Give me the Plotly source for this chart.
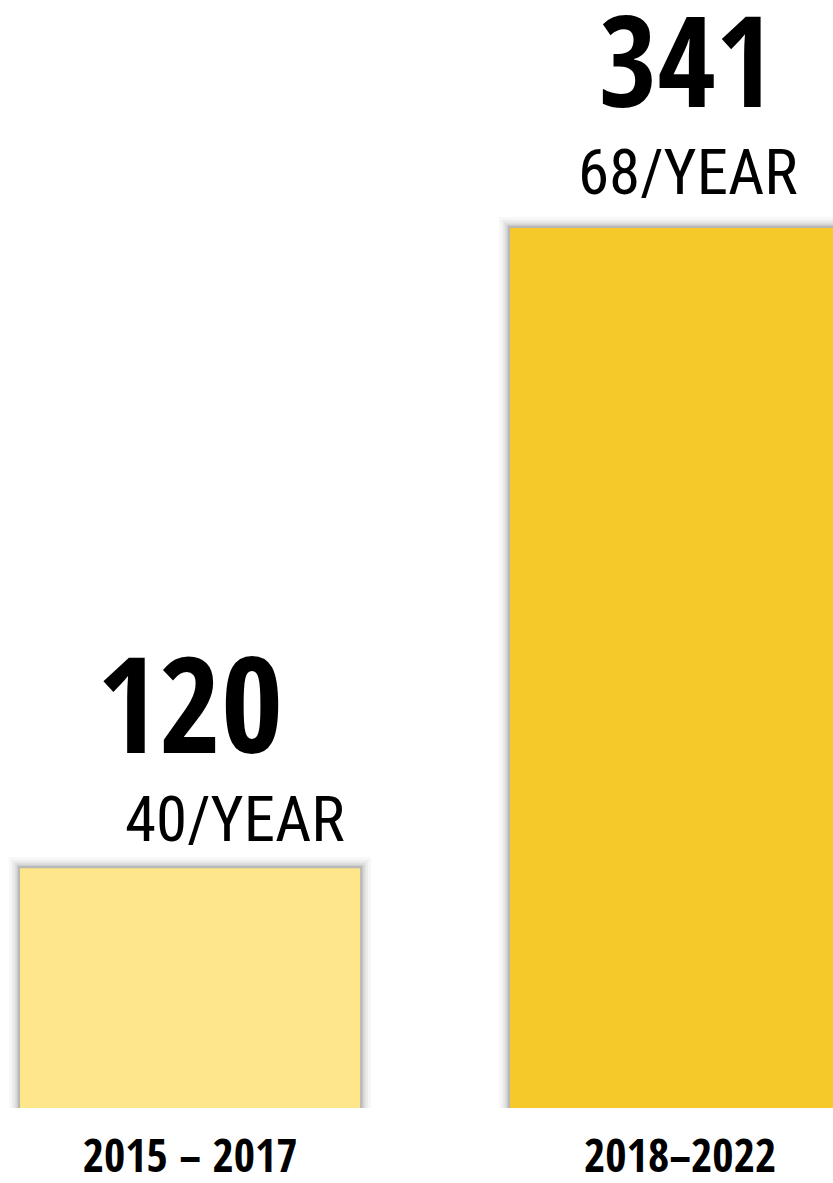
import plotly.graph_objects as go

categories = ["2015 – 2017", "2018–2022"]
totals = [120, 341]
per_year_labels = ["40/YEAR", "68/YEAR"]
bar_colors = ["#FEE78A", "#F4C929"]

x_pos = list(range(len(categories)))
BAR_W = 0.694
BIG_FONT = "'Open Sans Condensed', 'Roboto Condensed', sans-serif"
SUB_FONT = "'Roboto Condensed', sans-serif"

fig = go.Figure()

# soft shadow layers (strokes around the same bars)
for lw, op in [(22, 0.03), (16, 0.045), (11, 0.06), (7, 0.08), (4, 0.1)]:
    fig.add_trace(go.Bar(
        x=x_pos, y=totals, width=BAR_W,
        marker=dict(color="rgba(0,0,0,0)", line=dict(color=f"rgba(0,0,0,{op})", width=lw)),
        hoverinfo="skip", showlegend=False,
    ))

fig.add_trace(go.Bar(
    x=x_pos, y=totals, width=BAR_W,
    marker=dict(color=bar_colors, line=dict(width=0)),
    showlegend=False,
))

big_sizes = [134, 126]
big_shift = [167, 170]
sub_sizes = [63, 63]
sub_shift = [49, 55]
sub_xshift = [45, 8]
for i, (xv, tot, lab) in enumerate(zip(x_pos, totals, per_year_labels)):
    fig.add_annotation(x=xv, y=tot, text=f"<b>{tot}</b>", showarrow=False,
                       xref="x", yref="y", yanchor="middle", yshift=big_shift[i],
                       xshift=[0, 6][i],
                       font=dict(family=BIG_FONT, size=big_sizes[i], color="black"))
    fig.add_annotation(x=xv, y=tot, text=lab, showarrow=False,
                       xref="x", yref="y", yanchor="middle", yshift=sub_shift[i],
                       xshift=sub_xshift[i],
                       font=dict(family=SUB_FONT, size=sub_sizes[i], color="black"))

fig.update_layout(
    width=833, height=1183,
    margin=dict(l=0, r=0, t=0, b=75),
    paper_bgcolor="white", plot_bgcolor="white",
    barmode="overlay",
    xaxis=dict(range=[-0.388, 1.312], tickvals=x_pos, ticktext=[f"<b>{c}</b>" for c in categories],
               showgrid=False, zeroline=False, showline=False, ticks="",
               ticklabelstandoff=17, automargin=False,
               tickfont=dict(family=BIG_FONT, size=46, color="black")),
    yaxis=dict(range=[37.2, 419.7], visible=False, showgrid=False, zeroline=False,
               automargin=False),
)

fig.write_html("out.html", config={"displayModeBar": False},
               post_script="document.body.style.margin='0';")
